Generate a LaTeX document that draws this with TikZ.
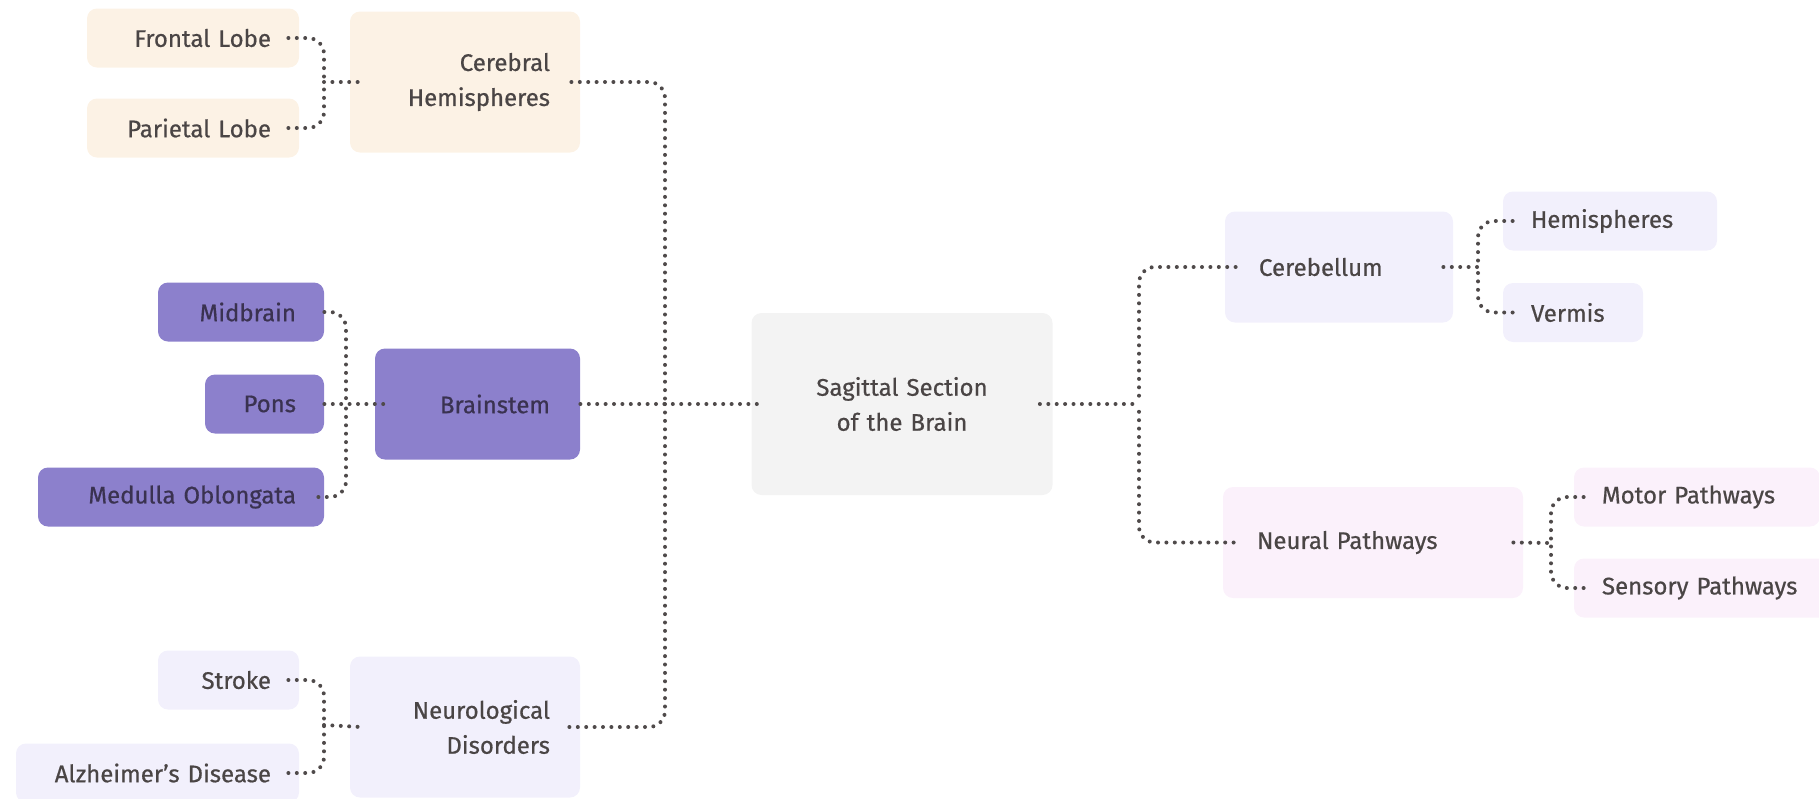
\documentclass[tikz,border=0pt]{standalone}
\usepackage{fontspec}
\setmainfont{Fira Sans}[FakeBold=0.6]
\definecolor{peach}{HTML}{FCF2E5}
\definecolor{plum}{HTML}{8C80CC}
\definecolor{lilac}{HTML}{F2F0FC}
\definecolor{pale}{HTML}{F3F3F3}
\definecolor{pink}{HTML}{FBF1FB}
\definecolor{ink}{HTML}{4A4545}
\definecolor{deep}{HTML}{3A3250}
\definecolor{dots}{HTML}{4F4A4A}

\begin{document}
\begin{tikzpicture}[x=0.5pt,y=-0.5pt]
\tikzset{box/.style={rounded corners=5pt,inner ysep=2pt,text=ink,font=\fontsize{12}{17.5}\selectfont},
  lleaf/.style={box,inner xsep=14pt,align=right,minimum height=29.5pt},
  rleaf/.style={box,inner xsep=14pt,align=left,minimum height=29.5pt},
  lmid/.style={box,inner xsep=15pt,align=right},
  rmid/.style={box,inner xsep=17pt,align=left,minimum height=55.5pt},
  root/.style={box,fill=pale,align=center,inner xsep=5pt,text width=140.5pt,minimum height=91pt},
  link/.style={draw=dots,line width=2pt,line cap=round,dash pattern=on 0pt off 4.2pt,rounded corners=8pt}}

\useasboundingbox (0,0) rectangle (1819,798);

% centre
\path (902,404) node[root] (ss) {Sagittal Section\\of the Brain};

% left side
\path (465,82) node[lmid,fill=peach,text width=85pt,minimum height=70.5pt] (ch) {Cerebral\\Hemispheres};
\path (193,38) node[lleaf,fill=peach,text width=78pt] (fl) {Frontal Lobe};
\path (193,128) node[lleaf,fill=peach,text width=78pt] (pl) {Parietal Lobe};

\path (477.5,404) node[lmid,fill=plum,text=deep,text width=72.5pt,minimum height=55.5pt] (bs) {Brainstem};
\path (241,312) node[lleaf,fill=plum,text=deep,text width=55pt] (mb) {Midbrain};
\path (264.5,404) node[lleaf,fill=plum,text=deep,text width=31.5pt] (po) {Pons};
\path (181,497) node[lleaf,fill=plum,text=deep,text width=115pt] (mo) {Medulla Oblongata};

\path (465,727) node[lmid,fill=lilac,text width=85pt,minimum height=70.5pt] (nd) {Neurological\\Disorders};
\path (228.5,680) node[lleaf,fill=lilac,text width=42.5pt] (st) {Stroke};
\path (157.5,773) node[lleaf,fill=lilac,text width=113.5pt] (ad) {Alzheimer's Disease};

% right side
\path (1339,267) node[rmid,fill=lilac,text width=80pt] (cb) {Cerebellum};
\path (1610,221) node[rleaf,fill=lilac,text width=79pt] (he) {Hemispheres};
\path (1573,312.5) node[rleaf,fill=lilac,text width=42pt] (ve) {Vermis};

\path (1373,542.5) node[rmid,fill=pink,text width=116pt] (np) {Neural Pathways};
\path (1697,497) node[rleaf,fill=pink,text width=95pt] (mp) {Motor Pathways};
\path (1706,588) node[rleaf,fill=pink,text width=104pt] (sp) {Sensory Pathways};

% junctions
\coordinate (jch) at (324,82);
\coordinate (jbs) at (346,404);
\coordinate (jnd) at (324,725);
\coordinate (jl) at (665,404);
\coordinate (jr) at (1139,404);
\coordinate (jcb) at (1478,267);
\coordinate (jnp) at (1551,543);

% links
\draw[link] ([xshift=-5.5pt]fl.east) -| (jch);
\draw[link] ([xshift=-5.5pt]pl.east) -| (jch);
\draw[link] (jch) -- ([xshift=6pt]ch.west);

\draw[link] (mb.east) -| (jbs);
\draw[link] ([xshift=-3pt]mo.east) -| (jbs);
\draw[link] (po.east) -- ([xshift=5.5pt]bs.west);

\draw[link] ([xshift=-5.5pt]st.east) -| (jnd);
\draw[link] ([xshift=-5.5pt]ad.east) -| (jnd);
\draw[link] (jnd) -- ([xshift=6pt]nd.west);

\draw[link] (bs.east) -- ([xshift=5pt]ss.west);
\draw[link] ([xshift=-4.5pt]ch.east) -| (jl);
\draw[link] ([xshift=-5.5pt]nd.east) -| (jl);

\draw[link] ([xshift=-6.5pt]ss.east) -- (jr);
\draw[link] ([xshift=5.5pt]cb.west) -| (jr);
\draw[link] ([xshift=5.5pt]np.west) -| (jr);

\draw[link] ([xshift=-5pt]cb.east) -- (jcb);
\draw[link] ([xshift=5pt]he.west) -| (jcb);
\draw[link] ([xshift=5pt]ve.west) -| (jcb);

\draw[link] ([xshift=-5pt]np.east) -- (jnp);
\draw[link] ([xshift=5pt]mp.west) -| (jnp);
\draw[link] ([xshift=5pt]sp.west) -| (jnp);
\end{tikzpicture}
\end{document}
